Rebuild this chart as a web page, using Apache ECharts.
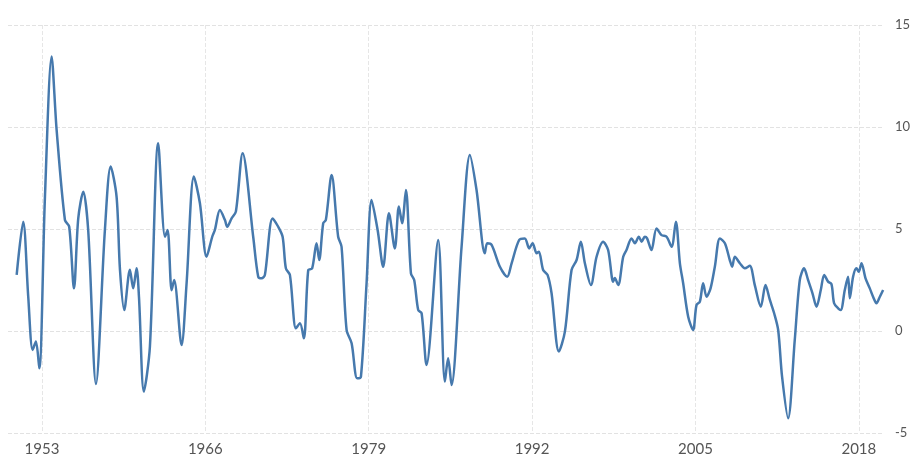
<!DOCTYPE html>
<html>
<head>
<meta charset="utf-8">
<script src="https://cdn.jsdelivr.net/npm/echarts@6/dist/echarts.min.js"></script>
<style>
html,body{margin:0;padding:0;background:#fff;}
#chart{width:914px;height:464px;}
</style>
</head>
<body>
<div id="chart"></div>
<script>
const years = [
1950.99,1951.51,1951.91,1952.26,1952.52,1952.79,1953.24,1953.77,1954.17,1954.83,1955.17,1955.55,1955.89,1956.29,1956.68,1957.30,1958.01,1958.47,1958.94,
1959.21,1959.55,1960.00,1960.26,1960.53,1960.72,1961.11,1961.59,1962.25,1962.79,1963.00,1963.32,1963.52,1964.11,1964.51,1965.09,1965.57,1966.10,1966.55,1966.76,1967.16,1967.56,
1967.74,1968.09,1968.43,1968.97,1969.81,1970.21,1970.48,1970.74,1971.35,1971.80,1972.15,1972.41,1972.73,1973.21,1973.53,1973.84,1974.19,1974.50,1974.85,1975.06,1975.38,1975.59,
1976.05,1976.57,1976.84,1977.24,1977.64,1978.08,1978.38,1978.83,1979.23,1979.71,1980.15,1980.61,1981.08,1981.40,1981.66,1981.96,1982.36,1982.62,1982.94,1983.21,1983.60,
1984.53,1985.06,1985.32,1985.59,1986.39,1987.05,1987.58,1988.24,1988.43,1988.78,1989.44,1990.02,1990.37,1990.97,1991.42,1991.77,1992.04,1992.36,
1992.54,1992.88,1993.23,1993.55,1994.13,1994.61,1995.14,1995.54,1995.88,1996.20,1996.68,1997.13,1997.65,1998.05,1998.45,1998.58,1998.85,1999.25,1999.51,1999.91,2000.18,2000.49,2000.71,2000.97,
2001.15,2001.50,2001.90,2002.30,2002.70,2003.10,2003.44,2003.76,2004.02,2004.42,2004.81,2005.08,2005.35,2005.61,2005.88,2006.20,2006.54,2006.94,2007.34,2007.73,2007.92,2008.13,2008.53,2008.93,2009.32,
2009.72,2010.20,2010.57,2010.92,2011.26,2011.58,2011.89,2012.37,2012.90,2013.30,2013.64,2013.96,2014.31,2014.63,2014.97,2015.24,2015.55,2015.82,2016.03,2016.35,2016.56,2016.88,2017.14,2017.28,2017.54,2017.81,2017.99,2018.21,2018.53,2018.87,2019.13,2019.40,2019.67,2019.93
];
const values = [
2.75,5.36,1.68,-0.93,-0.52,-1.83,6.58,13.45,9.85,5.44,5.11,2.09,5.52,6.83,4.95,-2.6,4.95,8.06,6.58,
3.0,1.03,3.0,2.09,3.07,1.68,-2.97,-0.77,9.2,4.62,4.95,2.0,2.5,-0.69,2.34,7.57,6.26,3.64,4.62,4.95,5.93,5.44,
5.11,5.52,5.85,8.71,4.62,2.66,2.58,2.75,5.52,5.11,4.62,3.07,2.75,0.13,0.38,-0.36,2.99,3.07,4.3,3.48,5.28,5.44,
7.65,4.62,4.13,0.05,-0.6,-2.32,-2.25,2.34,6.42,4.95,3.15,5.77,4.05,6.1,5.28,6.91,2.83,2.5,1.03,0.87,-1.67,
4.46,-2.48,-1.34,-2.65,4.13,8.63,6.91,3.81,4.3,4.22,3.15,2.66,3.32,4.46,4.54,4.05,4.3,3.81,
3.89,2.99,2.75,1.85,-1.01,-0.03,2.99,3.48,4.38,3.32,2.25,3.64,4.38,3.97,2.42,2.6,2.25,3.64,3.97,4.54,4.3,4.62,4.38,4.62,
4.54,3.97,5.03,4.7,4.62,4.13,5.36,3.32,2.34,0.7,0.05,1.27,1.44,2.34,1.68,2.09,3.15,4.54,4.3,3.48,3.15,3.64,3.32,3.07,3.2,
2.25,1.19,2.25,1.52,0.87,0.05,-2.24,-4.28,-0.44,2.5,3.07,2.5,1.85,1.19,2.01,2.75,2.42,2.3,1.36,1.11,1.03,2.01,2.66,1.6,2.66,3.07,2.9,3.32,2.58,2.09,1.68,1.36,1.68,2.01
];
const xTickLabels = [1953, 1966, 1979, 1992, 2005, 2018];

const seriesData = years.map((y, i) => [y, values[i]]);

const chart = echarts.init(document.getElementById('chart'), null, {renderer: 'canvas'});
chart.setOption({
  animation: false,
  backgroundColor: '#ffffff',
  grid: {left: 8, right: 30, top: 25, bottom: 31, containLabel: false},
  xAxis: {
    type: 'value',
    min: 1950.3,
    max: 2020.0,
    axisLine: {show: false},
    axisTick: {show: false, customValues: xTickLabels},
    axisLabel: {
      customValues: xTickLabels,
      margin: 9,
      color: '#555555',
      fontFamily: 'Lato, "Open Sans", sans-serif',
      fontSize: 15,
      formatter: v => String(Math.round(v))
    },
    splitLine: {show: true, lineStyle: {color: '#e6e6e6', type: 'dashed', width: 1}}
  },
  yAxis: {
    type: 'value',
    position: 'right',
    min: -5,
    max: 15,
    interval: 5,
    axisLine: {show: false},
    axisTick: {show: false},
    axisLabel: {
      margin: 11,
      color: '#555555',
      fontFamily: 'Lato, "Open Sans", sans-serif',
      fontSize: 13
    },
    splitLine: {show: true, lineStyle: {color: '#e2e2e2', type: 'dashed', width: 1}}
  },
  series: [{
    type: 'line',
    data: seriesData,
    showSymbol: false,
    smooth: 0.3,
    lineStyle: {color: '#4679ad', width: 2.5},
    itemStyle: {color: '#4679ad'}
  }]
});
</script>
</body>
</html>
